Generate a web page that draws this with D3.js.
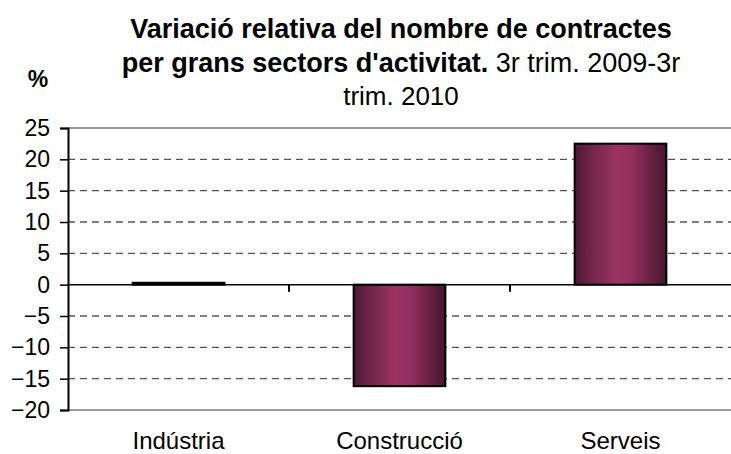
<!DOCTYPE html>
<html lang="ca">
<head>
<meta charset="UTF-8">
<title>Variació relativa del nombre de contractes</title>
<script src="https://cdnjs.cloudflare.com/ajax/libs/d3/7.8.5/d3.min.js"></script>
<style>
    body { margin: 0; background: #fff; }
    svg { display: block; font-family: "Liberation Sans", Arial, sans-serif; }
</style>
</head>
<body>
<svg id="chart" width="731" height="454"></svg>
<script>
// data
const sectors = ["Indústria", "Construcció", "Serveis"];
const variation = [0.3, -16.2, 22.5];
const yTicks = [25, 20, 15, 10, 5, 0, -5, -10, -15, -20];

const svg = d3.select("#chart");
const plotLeft = 68, plotRight = 731, plotTop = 128, plotBottom = 410;

const y = d3.scaleLinear().domain([-20, 25]).range([plotBottom, plotTop]);
const xCat = d3.scaleBand().domain(sectors).range([plotLeft, plotRight]).padding(0);
const xBar = d3.scaleBand().domain(sectors).range([plotLeft, plotRight])
    .paddingInner(0.585).paddingOuter(0.2925);

// bar gradient, dark at the edges
const grad = svg.append("defs").append("linearGradient")
    .attr("id", "barGrad").attr("x1", "0").attr("x2", "1").attr("y1", "0").attr("y2", "0");
[[0, "#4a1933"], [0.15, "#6b2346"], [0.45, "#9a3363"], [0.62, "#93305f"], [0.85, "#62203f"], [1, "#471830"]]
    .forEach(s => grad.append("stop").attr("offset", s[0]).attr("stop-color", s[1]));

// dashed gridlines
svg.append("g").selectAll("line")
    .data(yTicks.filter(t => t !== 0 && t !== 25 && t !== -20))
    .join("line")
    .attr("x1", plotLeft).attr("x2", plotRight)
    .attr("y1", d => y(d)).attr("y2", d => y(d))
    .attr("stroke", "#555").attr("stroke-width", 1.3)
    .attr("stroke-dasharray", "7,5");

// top and bottom frame lines
svg.append("g").selectAll("line")
    .data([25, -20])
    .join("line")
    .attr("x1", plotLeft).attr("x2", plotRight)
    .attr("y1", d => y(d)).attr("y2", d => y(d))
    .attr("stroke", "#9a9a9a").attr("stroke-width", 2);

// bars
svg.append("g").selectAll("rect")
    .data(sectors)
    .join("rect")
    .attr("x", d => xBar(d))
    .attr("width", xBar.bandwidth())
    .attr("y", (d, i) => y(Math.max(0, variation[i])))
    .attr("height", (d, i) => Math.abs(y(variation[i]) - y(0)))
    .attr("fill", "url(#barGrad)")
    .attr("stroke", "#000").attr("stroke-width", 2);

// zero line with category separator ticks
svg.append("line")
    .attr("x1", plotLeft).attr("x2", plotRight)
    .attr("y1", y(0)).attr("y2", y(0))
    .attr("stroke", "#000").attr("stroke-width", 1.5);
svg.append("g").selectAll("line")
    .data(sectors.slice(1))
    .join("line")
    .attr("x1", d => xCat(d)).attr("x2", d => xCat(d))
    .attr("y1", y(0)).attr("y2", y(0) + 7)
    .attr("stroke", "#000").attr("stroke-width", 2);

// y axis
const yAxis = svg.append("g")
    .attr("transform", `translate(${plotLeft},0)`)
    .call(d3.axisLeft(y).tickValues(yTicks).tickSize(8).tickPadding(10));
yAxis.select(".domain").attr("stroke", "#000").attr("stroke-width", 2);
yAxis.selectAll(".tick line").attr("stroke", "#000").attr("stroke-width", 1.5);
yAxis.selectAll(".tick text")
    .attr("font-size", 23).attr("fill", "#000")
    .attr("font-family", "Liberation Sans, Arial, sans-serif");

// category labels
svg.append("g").selectAll("text")
    .data(sectors)
    .join("text")
    .attr("x", d => xCat(d) + xCat.bandwidth() / 2)
    .attr("y", 449)
    .attr("text-anchor", "middle")
    .attr("font-size", 24)
    .text(d => d);

// title
const cx = 401;
svg.append("text").attr("x", cx).attr("y", 38).attr("text-anchor", "middle")
    .attr("font-size", 27).attr("font-weight", "bold")
    .text("Variació relativa del nombre de contractes");
const t2 = svg.append("text").attr("x", cx).attr("y", 72).attr("text-anchor", "middle")
    .attr("font-size", 27);
t2.append("tspan").attr("font-weight", "bold").text("per grans sectors d'activitat.");
t2.append("tspan").text(" 3r trim. 2009-3r");
svg.append("text").attr("x", cx).attr("y", 105).attr("text-anchor", "middle")
    .attr("font-size", 26)
    .text("trim. 2010");

// unit label
svg.append("text").attr("x", 38).attr("y", 87).attr("text-anchor", "middle")
    .attr("font-size", 23).attr("font-weight", "bold")
    .text("%");
</script>
</body>
</html>
